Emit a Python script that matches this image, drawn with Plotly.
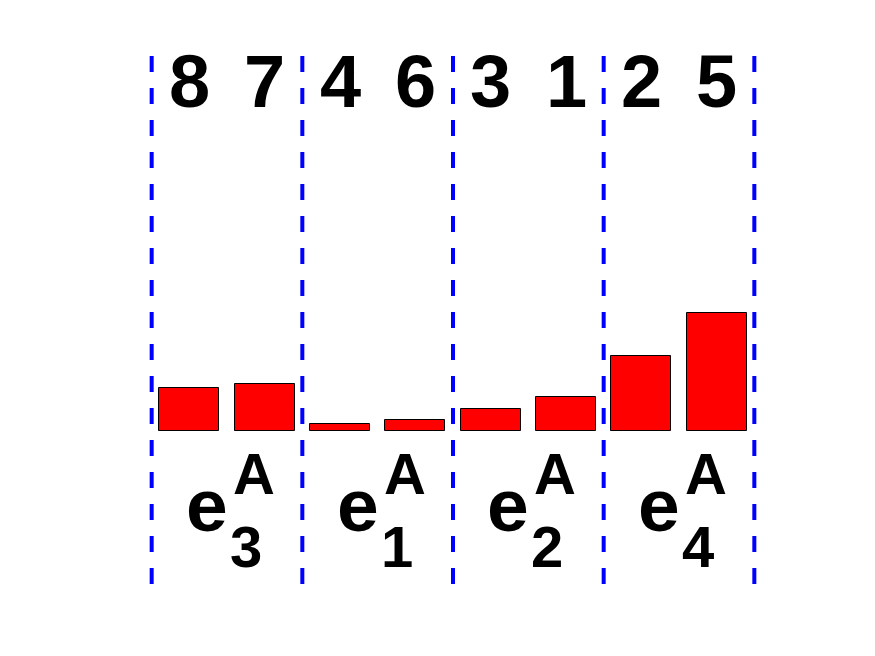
import plotly.graph_objects as go

# ---- data ----
bar_positions = [1, 2, 3, 4, 5, 6, 7, 8]
bar_values = [0.28, 0.306, 0.05, 0.07, 0.143, 0.221, 0.489, 0.77]
bar_labels = ["8", "7", "4", "6", "3", "1", "2", "5"]
group_centers = [1.5, 3.5, 5.5, 7.5]
group_subscripts = ["3", "1", "2", "4"]
group_superscript = "A"
group_base = "e"
separators = [0.5, 2.5, 4.5, 6.5, 8.5]

FONT = "Liberation Sans, Arial, Helvetica, sans-serif"

fig = go.Figure()
fig.add_trace(go.Bar(
    x=bar_positions, y=bar_values, width=0.8,
    marker=dict(color="#FF0000", line=dict(color="black", width=1)),
    hoverinfo="skip", showlegend=False,
))

Y_MIN, Y_MAX = -1.0, 2.5
for xs in separators:
    fig.add_shape(type="line", xref="x", yref="y", x0=xs, x1=xs, y0=Y_MIN, y1=Y_MAX,
                  line=dict(color="#0000FF", width=4, dash="16px,16px"), layer="above")

annotations = []
for x, lab in zip(bar_positions, bar_labels):
    annotations.append(dict(x=x, y=2.286, xref="x", yref="y", text=lab, showarrow=False,
                            xanchor="center", yanchor="middle",
                            font=dict(family=FONT, size=74, color="black", weight="bold")))
for xc, sub in zip(group_centers, group_subscripts):
    annotations.append(dict(x=xc, y=-0.483, xref="x", yref="y", text=group_base, showarrow=False,
                            xanchor="right", yanchor="middle", xshift=3,
                            font=dict(family=FONT, size=75, color="black", weight="bold")))
    annotations.append(dict(x=xc, y=-0.279, xref="x", yref="y", text=group_superscript, showarrow=False,
                            xanchor="left", yanchor="middle", xshift=4,
                            font=dict(family=FONT, size=58, color="black", weight="bold")))
    annotations.append(dict(x=xc, y=-0.756, xref="x", yref="y", text=sub, showarrow=False,
                            xanchor="left", yanchor="middle", xshift=1,
                            font=dict(family=FONT, size=58, color="black", weight="bold")))

fig.update_layout(
    width=875, height=656,
    margin=dict(l=114, r=83, t=49, b=72),
    paper_bgcolor="white", plot_bgcolor="white",
    xaxis=dict(range=[0, 9], visible=False, fixedrange=True),
    yaxis=dict(range=[Y_MIN, Y_MAX], visible=False, fixedrange=True),
    annotations=annotations,
    bargap=0,
)

fig.write_html("out.html")
